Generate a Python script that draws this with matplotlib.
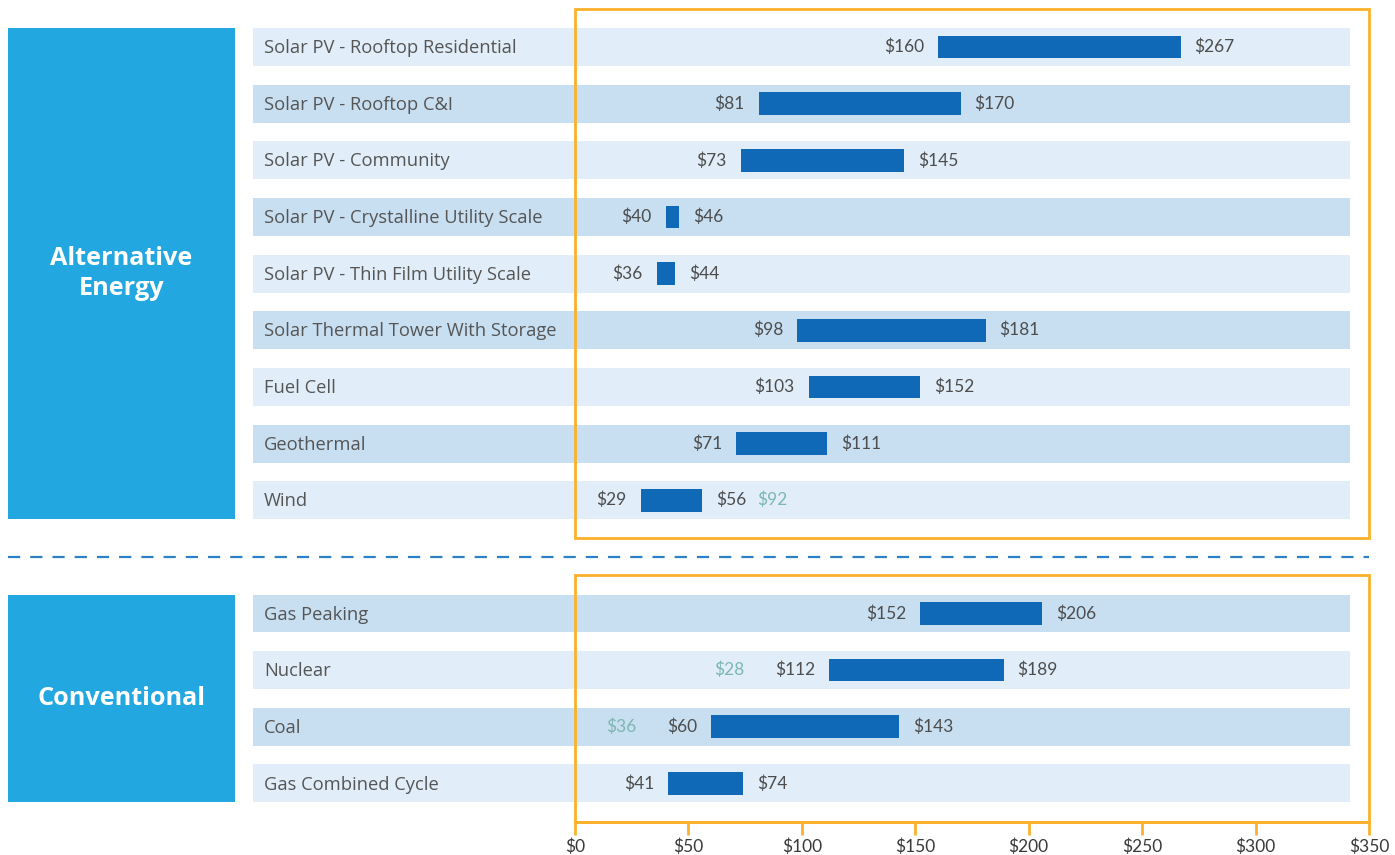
import matplotlib
matplotlib.use("Agg")
import matplotlib.pyplot as plt
from matplotlib.patches import Rectangle

# ---------------- data ----------------
alt_categories = ["Solar PV - Rooftop Residential", "Solar PV - Rooftop C&I",
                  "Solar PV - Community", "Solar PV - Crystalline Utility Scale",
                  "Solar PV - Thin Film Utility Scale", "Solar Thermal Tower With Storage",
                  "Fuel Cell", "Geothermal", "Wind"]
alt_low = [160, 81, 73, 40, 36, 98, 103, 71, 29]
alt_high = [267, 170, 145, 46, 44, 181, 152, 111, 56]

conv_categories = ["Gas Peaking", "Nuclear", "Coal", "Gas Combined Cycle"]
conv_low = [152, 112, 60, 41]
conv_high = [206, 189, 143, 74]

# secondary (teal) values: category -> (value, side)
extra_values = {"Wind": (92, "right"), "Nuclear": (28, "left"), "Coal": (36, "left")}

group_labels = ["Alternative\nEnergy", "Conventional"]
xticks = [0, 50, 100, 150, 200, 250, 300, 350]

# ---------------- style ----------------
W, H = 1395, 855
BAR = "#0f69b6"
BAND_LIGHT = "#e1eef9"
BAND_DARK = "#c8dff2"
GROUP_BG = "#23a7e0"
ORANGE = "#fbb12b"
TEAL = "#7db7b0"
TXT = "#4d4d4d"
DASH = "#2d80c4"
FONT = "Lato"
CAT_FONT = "Open Sans"

fig = plt.figure(figsize=(W / 100, H / 100), dpi=100)
ax = fig.add_axes([575 / W, (H - 822) / H, 794 / W, (822 - 9) / H])
ax.set_xlim(0, 350)
ax.set_ylim(13.68, -0.67)

cats = alt_categories + conv_categories
lows = alt_low + conv_low
highs = alt_high + conv_high
ypos = list(range(len(alt_categories))) + [len(alt_categories) + 1 + i for i in range(len(conv_categories))]

band_left, band_right = -142, 341.6
for i, (c, lo, hi, y) in enumerate(zip(cats, lows, highs, ypos)):
    ax.barh(y, band_right - band_left, left=band_left, height=0.67,
            color=BAND_LIGHT if i % 2 == 0 else BAND_DARK, clip_on=False, zorder=1)
    ax.barh(y, hi - lo, left=lo, height=0.4, color=BAR, zorder=3)
    ax.text(-137, y + 0.02, c, ha="left", va="center", fontsize=13.2, color="#555555",
            family=CAT_FONT, clip_on=False, zorder=4)
    tl = ax.annotate(f"${lo}", xy=(lo, y), xytext=(-10, 0), textcoords="offset points",
                     ha="right", va="center", fontsize=12.5, color=TXT, family=FONT, zorder=4)
    tr = ax.annotate(f"${hi}", xy=(hi, y), xytext=(10, 0), textcoords="offset points",
                     ha="left", va="center", fontsize=12.5, color=TXT, family=FONT, zorder=4)
    if c in extra_values:
        v, side = extra_values[c]
        if side == "right":
            ax.annotate(f"${v}", xy=(1, 0.5), xycoords=tr, xytext=(8, 0),
                        textcoords="offset points", ha="left", va="center",
                        fontsize=12.5, color=TEAL, family=FONT, zorder=4)
        else:
            ax.annotate(f"${v}", xy=(0, 0.5), xycoords=tl, xytext=(-22, 0),
                        textcoords="offset points", ha="right", va="center",
                        fontsize=12.5, color=TEAL, family=FONT, zorder=4)

# group boxes
n_alt = len(alt_categories)
groups = [(ypos[0] - 0.335, ypos[n_alt - 1] + 0.335), (ypos[n_alt] - 0.335, ypos[-1] + 0.335)]
for (y0, y1), lab in zip(groups, group_labels):
    ax.add_patch(Rectangle((-250, y0), 100, y1 - y0, facecolor=GROUP_BG,
                           edgecolor="none", clip_on=False, zorder=2))
    ax.text(-200, (y0 + y1) / 2, lab, ha="center", va="center", color="white",
            fontsize=18.2, fontweight="bold", family=CAT_FONT, linespacing=1.3,
            clip_on=False, zorder=4)

# orange frames
ax.add_patch(Rectangle((0, -0.67), 350, 8.66 + 0.67, facecolor="none", edgecolor=ORANGE,
                       linewidth=2, clip_on=False, zorder=5))
ax.add_patch(Rectangle((0, 9.32), 350, 13.68 - 9.32, facecolor="none", edgecolor=ORANGE,
                       linewidth=2, clip_on=False, zorder=5))

# dashed separator
ax.plot([-250, 350], [9.0, 9.0], color=DASH, linewidth=1.6,
        linestyle=(0, (5.5, 4.5)), clip_on=False, zorder=2)

# axis
for s in ["left", "top", "right"]:
    ax.spines[s].set_visible(False)
ax.spines["bottom"].set_color(ORANGE)
ax.spines["bottom"].set_linewidth(2)
ax.set_yticks([])
ax.set_xticks(xticks)
ax.set_xticklabels([f"${t}" for t in xticks], fontsize=12.5, color="#3a3a3a",
                   family=FONT)
ax.tick_params(axis="x", colors=ORANGE, length=9, width=2, pad=3, labelcolor="#3a3a3a")
ax.patch.set_visible(False)

fig.savefig("out.png", dpi=100)
